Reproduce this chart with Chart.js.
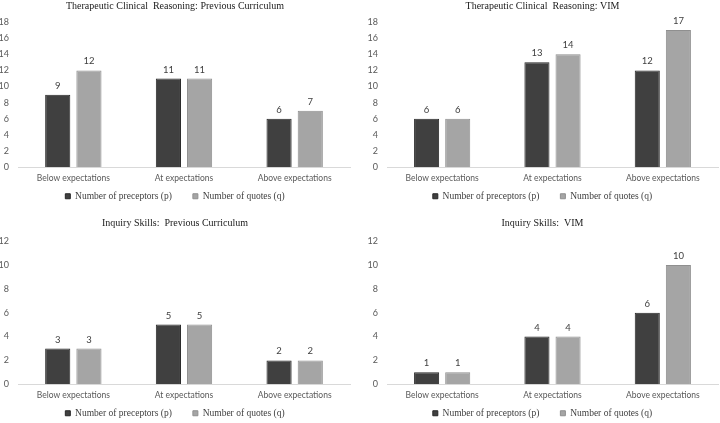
<!DOCTYPE html>
<html><head><meta charset="utf-8">
<script src="https://cdn.jsdelivr.net/npm/chart.js@4/dist/chart.umd.min.js"></script>
<style>
html,body{margin:0;padding:0;background:#fff;overflow:hidden;width:720px;height:423px;position:relative}
.p{position:absolute}
</style></head><body>
<div class="p" style="left:0;top:0;width:360px;height:211px"><canvas id="tl"></canvas></div>
<div class="p" style="left:367px;top:0;width:360px;height:211px"><canvas id="tr"></canvas></div>
<div class="p" style="left:0;top:210px;width:360px;height:218px"><canvas id="bl"></canvas></div>
<div class="p" style="left:367px;top:210px;width:360px;height:218px"><canvas id="br"></canvas></div>
<script>
const categories = ['Below expectations', 'At expectations', 'Above expectations'];
const seriesNames = ['Number of preceptors (p)', 'Number of quotes (q)'];
const titles = ['Therapeutic Clinical  Reasoning: Previous Curriculum', 'Therapeutic Clinical  Reasoning: VIM', 'Inquiry Skills:  Previous Curriculum', 'Inquiry Skills:  VIM'];
const tcrPrevPreceptors = [9, 11, 6];
const tcrPrevQuotes = [12, 11, 7];
const tcrVimPreceptors = [6, 13, 12];
const tcrVimQuotes = [6, 14, 17];
const inqPrevPreceptors = [3, 5, 2];
const inqPrevQuotes = [3, 5, 2];
const inqVimPreceptors = [1, 4, 6];
const inqVimQuotes = [1, 4, 10];
const tcrAxisMax = 18;
const inqAxisMax = 12;
const axisStep = 2;

const darkFill = '#404040', darkBorder = '#262626';
const lightFill = '#a5a5a5', lightBorder = '#8f8f8f';
const sansFont = 'Lato';
const serifFont = 'Liberation Serif';

const valueLabels = {
  id: 'valueLabels',
  afterDatasetsDraw(chart) {
    const ctx = chart.ctx;
    ctx.save();
    ctx.font = '9.5px ' + sansFont;
    ctx.fillStyle = '#404040';
    ctx.textAlign = 'center';
    ctx.textBaseline = 'middle';
    chart.data.datasets.forEach((ds, i) => {
      chart.getDatasetMeta(i).data.forEach((bar, j) => {
        ctx.fillText(String(ds.data[j]), bar.x, bar.y - 9);
      });
    });
    ctx.restore();
  }
};

function legendLabels(chart) {
  const items = Chart.defaults.plugins.legend.labels.generateLabels(chart);
  items.forEach((it, i) => { if (i === 0) it.text = it.text + '        '; });
  return items;
}

function makeChart(id, title, p, q, max, opt) {
  new Chart(document.getElementById(id), {
    type: 'bar',
    data: {
      labels: categories,
      datasets: [
        {label: seriesNames[0], data: p, backgroundColor: darkFill, borderColor: darkBorder, borderWidth: 1},
        {label: seriesNames[1], data: q, backgroundColor: lightFill, borderColor: lightBorder, borderWidth: 1}
      ]
    },
    options: {
      responsive: true,
      maintainAspectRatio: false,
      animation: false,
      devicePixelRatio: 1,
      categoryPercentage: 0.564,
      barPercentage: 0.806,
      layout: {padding: {left: 0, right: opt.right, top: 0, bottom: 0}},
      plugins: {
        title: {display: true, text: title, color: '#1a1a1a', font: {family: serifFont, size: 10, weight: 'normal'}, padding: {top: opt.titleTop, bottom: opt.titleBottom}},
        legend: {position: 'bottom', labels: {boxWidth: 5, boxHeight: 5, padding: 2, color: '#404040', font: {family: serifFont, size: 9.5}, generateLabels: legendLabels}},
        tooltip: {enabled: false}
      },
      scales: {
        x: {
          grid: {display: false, drawTicks: false},
          border: {display: true, color: '#d9d9d9', width: 1},
          ticks: {color: '#595959', font: {family: sansFont, size: 8.5}, padding: 6, maxRotation: 0}
        },
        y: {
          min: 0, max: max,
          grid: {display: false, drawTicks: false},
          border: {display: false},
          ticks: {stepSize: axisStep, color: '#595959', font: {family: sansFont, size: 9}, padding: opt.tickPad},
          afterFit(scale) { scale.width = opt.left; }
        }
      }
    },
    plugins: [valueLabels]
  });
}

makeChart('tl', titles[0], tcrPrevPreceptors, tcrPrevQuotes, tcrAxisMax, {left: 18, right: 10, titleTop: 0, titleBottom: 10, tickPad: 9});
makeChart('tr', titles[1], tcrVimPreceptors, tcrVimQuotes, tcrAxisMax, {left: 20, right: 9, titleTop: 0, titleBottom: 10, tickPad: 9});
makeChart('bl', titles[2], inqPrevPreceptors, inqPrevQuotes, inqAxisMax, {left: 18, right: 10, titleTop: 7.5, titleBottom: 11.5, tickPad: 9});
makeChart('br', titles[3], inqVimPreceptors, inqVimQuotes, inqAxisMax, {left: 20, right: 9, titleTop: 7.5, titleBottom: 11.5, tickPad: 9});
</script>
</body></html>
